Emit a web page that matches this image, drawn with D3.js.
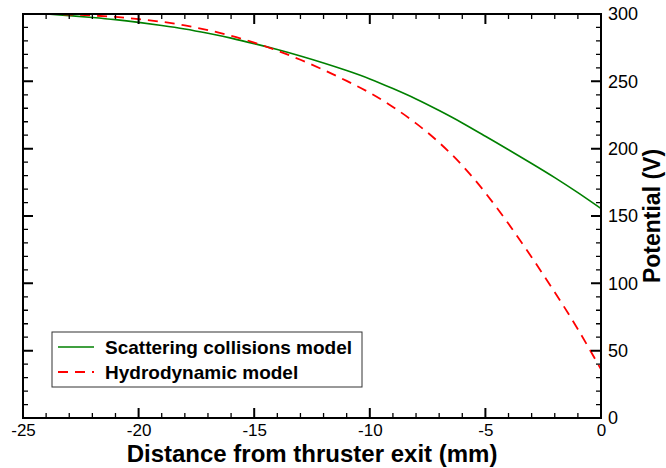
<!DOCTYPE html>
<html><head><meta charset="utf-8">
<script src="https://cdn.jsdelivr.net/npm/d3@7"></script>
<style>
body{margin:0;background:#fff}
text{font-family:"Liberation Sans",Arial,Helvetica,sans-serif}
</style>
</head><body>
<svg id="c" width="666" height="468"></svg>
<script>
// Data
const distance = [-24,-23,-22,-21,-20,-19,-18,-17,-16,-15,-14,-13,-12,-11,-10,-9,-8,-7,-6,-5,-4,-3,-2,-1,0];
const scattering = [300,298.8,297.4,295.8,293.8,291.5,288.9,285.7,282.1,278,273.6,268.8,263.6,258,251.8,244.6,236.9,228.3,219.1,209.2,199.2,189,178.5,167.3,155.5];
const hydrodynamic = [300,299.6,298.9,297.8,296.2,294.2,291.5,288,283.8,278.8,272.8,266,258.5,250.3,241.5,231,218.8,204.5,187.5,167.2,144.2,119.4,93.4,65.9,36.1];
const seriesNames = ["Scattering collisions model","Hydrodynamic model"];
const xMajorTicks = [-25,-20,-15,-10,-5,0];
const yMajorTicks = [0,50,100,150,200,250,300];
const xTitle = "Distance from thruster exit (mm)";
const yTitle = "Potential (V)";

const svg = d3.select("#c");
const L = 23, R = 601, T = 14, B = 418;
const x = d3.scaleLinear().domain([-25,0]).range([L,R]);
const y = d3.scaleLinear().domain([0,300]).range([B,T]);

const xMinor = d3.range(-25,0.5,1).filter(v=>!xMajorTicks.includes(v));
const yMinor = d3.range(0,301,10).filter(v=>!yMajorTicks.includes(v));

function tickPath(p, xVals, yVals, len){
  xVals.forEach(v=>{
    const px = x(v);
    p.moveTo(px,B); p.lineTo(px,B-len);
    p.moveTo(px,T); p.lineTo(px,T+len);
  });
  yVals.forEach(v=>{
    const py = y(v);
    p.moveTo(L,py); p.lineTo(L+len,py);
    p.moveTo(R,py); p.lineTo(R-len,py);
  });
  return p;
}

// lines (drawn first, frame and ticks on top)
const line = d3.line().x((d,i)=>x(distance[i])).y(d=>y(d)).curve(d3.curveNatural);
svg.append("path").datum(scattering).attr("d",line)
  .attr("fill","none").attr("stroke","#008000").attr("stroke-width",1.6);
svg.append("path").datum(hydrodynamic).attr("d",line)
  .attr("fill","none").attr("stroke","#ff0000").attr("stroke-width",1.8).attr("stroke-dasharray","10,7");

// frame + major ticks in one path
const fp = d3.path();
fp.rect(L,T,R-L,B-T);
tickPath(fp, xMajorTicks, yMajorTicks, 10);
svg.append("path").attr("d",fp.toString())
  .attr("fill","none").attr("stroke","#000").attr("stroke-width",2);
// minor ticks
svg.append("path").attr("d",tickPath(d3.path(), xMinor, yMinor, 5).toString())
  .attr("fill","none").attr("stroke","#000").attr("stroke-width",1.3);

// tick labels via axes
svg.append("g").attr("transform",`translate(0,${B})`)
  .call(d3.axisBottom(x).tickValues(xMajorTicks).tickSize(0).tickPadding(6).tickFormat(d=>String(d)))
  .call(g=>{g.select(".domain").remove(); g.selectAll("line").remove();
    g.selectAll("text").attr("font-size",17).attr("fill","#000").attr("font-family","Liberation Sans, Arial, sans-serif");});
svg.append("g").attr("transform",`translate(${R},0)`)
  .call(d3.axisRight(y).tickValues(yMajorTicks).tickSize(0).tickPadding(7).tickFormat(d=>String(d)))
  .call(g=>{g.select(".domain").remove(); g.selectAll("line").remove();
    g.selectAll("text").attr("font-size",18).attr("fill","#000").attr("font-family","Liberation Sans, Arial, sans-serif");});

// legend
const lg = svg.append("g");
lg.append("rect").attr("x",52).attr("y",332).attr("width",310).attr("height",55)
  .attr("fill","#fff").attr("stroke","#333").attr("stroke-width",1);
const legendStyles = [{c:"#008000",dash:null,w:1.6},{c:"#ff0000",dash:"10,7",w:1.8}];
seriesNames.forEach((n,i)=>{
  const yy = 347 + i*25;
  lg.append("line").attr("x1",58).attr("x2",94).attr("y1",yy).attr("y2",yy)
    .attr("stroke",legendStyles[i].c).attr("stroke-width",legendStyles[i].w)
    .attr("stroke-dasharray",legendStyles[i].dash);
  lg.append("text").attr("x",105).attr("y",yy+7).attr("font-size",19).attr("font-weight","bold")
    .attr("fill","#000").text(n);
});

// titles
svg.append("text").attr("x",(L+R)/2).attr("y",462).attr("text-anchor","middle")
  .attr("font-size",24).attr("font-weight","bold").text(xTitle);
svg.append("text").attr("transform",`translate(660,${(T+B)/2}) rotate(-90)`).attr("text-anchor","middle")
  .attr("font-size",23).attr("font-weight","bold").text(yTitle);
</script>
</body></html>
